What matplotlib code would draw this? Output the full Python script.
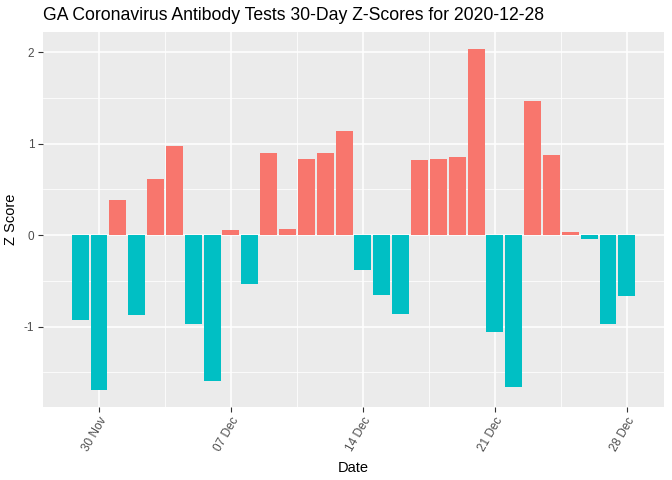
import matplotlib
matplotlib.use("Agg")
import matplotlib.pyplot as plt
import matplotlib.dates as mdates
import numpy as np
import pandas as pd

plt.rcParams['font.family'] = ['Liberation Sans', 'DejaVu Sans']

dates = pd.date_range("2020-11-29", "2020-12-28", freq="D")
zscores = [-0.93, -1.69, 0.39, -0.87, 0.62, 0.98, -0.97, -1.59, 0.055, -0.53,
           0.895, 0.065, 0.83, 0.895, 1.135, -0.376, -0.65, -0.86, 0.82, 0.83,
           0.86, 2.04, -1.055, -1.66, 1.47, 0.88, 0.033, -0.046, -0.97, -0.67]
tick_labels = ["30 Nov", "07 Dec", "14 Dec", "21 Dec", "28 Dec"]
tick_dates = pd.to_datetime(["2020-11-30", "2020-12-07", "2020-12-14", "2020-12-21", "2020-12-28"])

title = "GA Coronavirus Antibody Tests 30-Day Z-Scores for 2020-12-28"

W, H = 672, 480
fig = plt.figure(figsize=(W / 100, H / 100), dpi=100)
left, right, top, bottom = 43, 664, 31.7, 406.7
ax = fig.add_axes([left / W, 1 - bottom / H, (right - left) / W, (bottom - top) / H])
ax.set_facecolor("#EBEBEB")
for s in ax.spines.values():
    s.set_visible(False)

xnum = mdates.date2num(dates)
z = np.array(zscores)
colors = np.where(z > 0, "#F8766D", "#00BFC4")
ax.bar(xnum, z, width=0.9, color=colors, zorder=3)

x0 = xnum[0] - 1.97
x1 = xnum[-1] + 1.97
ax.set_xlim(x0, x1)
zmin, zmax = z.min(), z.max()
pad = 0.05 * (zmax - zmin)
ax.set_ylim(zmin - pad, zmax + pad)

tnum = mdates.date2num(tick_dates)
ax.set_xticks(tnum)
ax.set_xticklabels(tick_labels, rotation=60, ha="right", va="top", rotation_mode="anchor")
minor_x = [t + 3.5 for t in tnum] + [tnum[0] - 3.5]
minor_x = [m for m in minor_x if x0 < m < x1]
ax.set_xticks(minor_x, minor=True)
ax.set_yticks([-1, 0, 1, 2])
ax.set_yticklabels(["-1", "0", "1", "2"])
ax.set_yticks([-1.5, -0.5, 0.5, 1.5], minor=True)

ax.grid(which="major", color="white", linewidth=1.1, zorder=0)
ax.grid(which="minor", color="white", linewidth=0.55, zorder=0)
ax.set_axisbelow(True)
ax.tick_params(which="minor", length=0)
ax.tick_params(which="major", length=3.7, width=0.8, color="#333333",
               labelsize=8.45, labelcolor="#4D4D4D", pad=2.5)

ax.set_xlabel("Date", fontsize=10.56, labelpad=5)
ax.set_ylabel("Z Score", fontsize=10.56, labelpad=4)
fig.text(left / W, 1 - 15 / H, title, fontsize=12.67, ha="left", va="center")

fig.savefig("out.png", dpi=100)
